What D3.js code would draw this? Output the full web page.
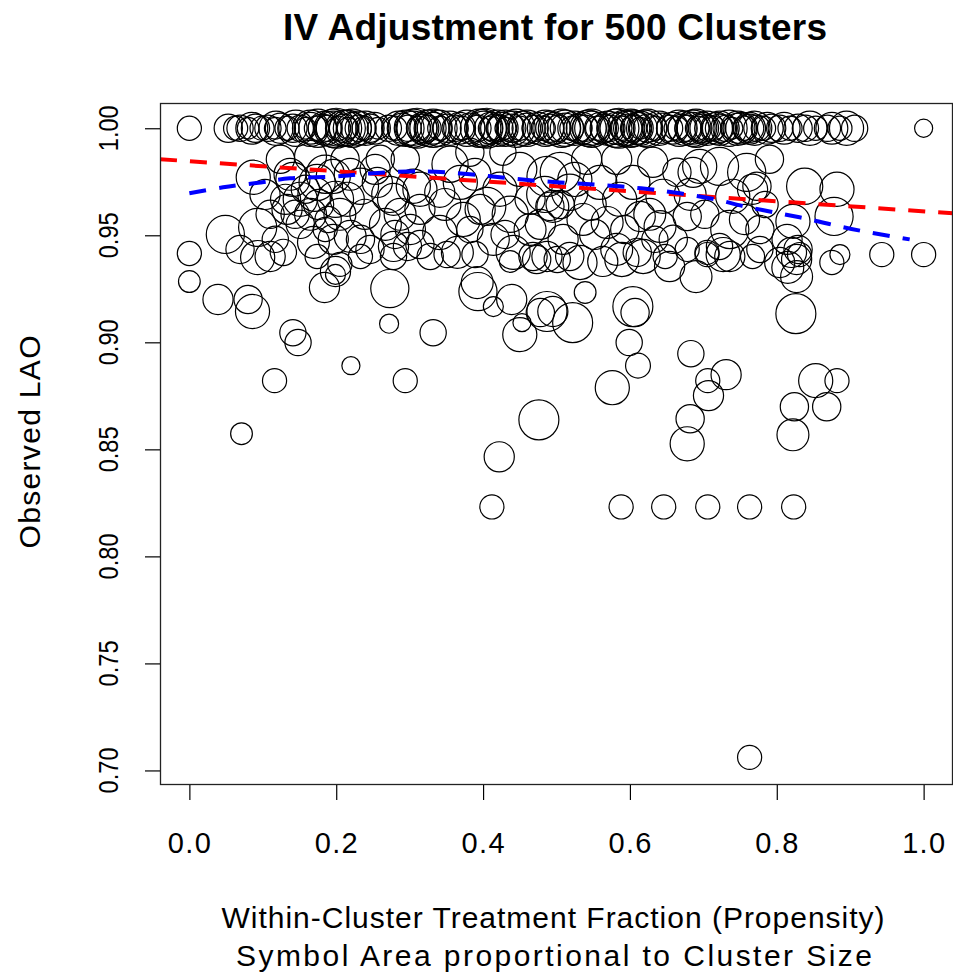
<!DOCTYPE html>
<html><head><meta charset="utf-8">
<script src="https://cdn.jsdelivr.net/npm/d3@7"></script>
<style>body{margin:0;background:#fff} text{font-family:"Liberation Sans",Arial,sans-serif;fill:#000}</style>
</head><body><svg id="c" width="953" height="974"></svg>
<script>
// clusters with observed LAO = 1.00 (top row)
const topRowX = [0.000,0.053,0.063,0.069,0.080,0.090,0.099,0.107,0.117,0.124,0.133,0.141,0.151,0.158,0.165,0.173,0.181,0.189,0.196,0.203,0.210,0.216,0.222,0.230,0.238,0.246,0.257,0.271,0.280,0.290,0.298,0.305,0.312,0.318,0.325,0.332,0.341,0.351,0.362,0.371,0.382,0.393,0.401,0.410,0.416,0.423,0.431,0.439,0.450,0.460,0.471,0.482,0.491,0.502,0.512,0.521,0.529,0.539,0.548,0.556,0.565,0.573,0.581,0.589,0.597,0.605,0.614,0.624,0.634,0.644,0.654,0.663,0.671,0.679,0.686,0.692,0.699,0.706,0.714,0.722,0.731,0.739,0.747,0.756,0.763,0.773,0.782,0.793,0.804,0.818,0.829,0.839,0.853,0.869,0.886,0.906,1.000,
0.196,0.210,0.305,0.318,0.401,0.410,0.431,0.581,0.597,0.605,0.686,0.699,0.722,0.165,0.222,0.230,0.325,0.332,0.441,0.460,0.491,0.512,0.548,0.614,0.624,0.747,0.763,
0.085,0.118,0.145,0.175,0.185,0.200,0.215,0.240,0.252,0.285,0.295,0.310,0.340,0.355,0.368,0.378,0.395,0.405,0.420,0.426,0.445,0.455,0.475,0.485,0.497,0.507,0.525,0.535,0.543,0.560,0.570,0.585,0.593,0.601,0.610,0.620,0.640,0.658,0.667,0.675,0.690,0.705,0.718,0.735,0.752,0.770,0.787,0.810,0.845,0.875,0.895];
const topRowSize = [16,22,16,19,13,22,16,19,13,25,16,22,19,13,28,16,22,19,32,16,22,13,28,19,16,22,13,19,16,25,19,32,16,22,19,28,16,22,19,16,25,19,32,16,22,19,13,22,16,25,19,16,22,19,25,16,22,19,32,16,22,19,28,16,22,19,13,22,16,25,19,16,22,19,28,16,22,19,16,22,19,13,25,16,22,19,16,22,19,16,22,19,16,19,16,19,9,
40,36,40,28,40,28,36,40,32,36,36,28,32,36,40,32,36,40,32,36,32,36,40,32,40,32,28,
28,32,36,40,32,44,36,32,28,32,36,44,36,32,28,36,40,44,36,28,40,32,28,36,28,40,32,28,36,28,32,44,36,40,28,36,32,28,36,32,40,32,28,36,28,32,28,28,32,28,32];

// all other clusters
const propensity = [0.000,0.000,0.039,0.080,0.086,0.141,0.148,0.220,0.116,0.071,0.272,0.273,0.332,0.294,0.184,0.199,0.199,0.093,0.476,0.422,
0.412,0.392,0.393,0.414,0.439,0.450,0.453,0.478,0.487,0.437,0.539,0.522,0.495,0.604,0.607,0.599,0.611,0.576,0.690,0.683,
0.731,0.706,0.707,0.682,0.678,0.826,0.827,0.815,0.875,0.943,1.000,0.853,0.882,0.824,0.868,0.822,0.588,0.646,0.706,0.763,
0.823,0.763,0.087,0.049,0.093,0.117,0.110,0.128,0.137,0.131,0.144,0.124,0.165,0.141,0.174,0.151,0.133,0.196,0.215,0.233,
0.256,0.278,0.305,0.314,0.169,0.196,0.233,0.278,0.297,0.185,0.199,0.165,0.212,0.253,0.273,0.294,0.267,0.219,0.301,0.246,
0.205,0.314,0.174,0.233,0.278,0.351,0.389,0.468,0.487,0.501,0.532,0.563,0.589,0.618,0.648,0.654,0.705,0.727,0.767,0.804,
0.827,0.831,0.886,0.736,0.314,0.341,0.369,0.373,0.405,0.414,0.341,0.328,0.365,0.450,0.464,0.464,0.473,0.441,0.487,0.495,
0.382,0.427,0.505,0.518,0.536,0.559,0.569,0.582,0.604,0.614,0.645,0.641,0.659,0.518,0.610,0.541,0.582,0.631,0.664,0.491,
0.509,0.695,0.722,0.759,0.740,0.773,0.678,0.736,0.814,0.820,0.829,0.777,0.722,0.705,0.678,0.777,0.838,0.882,0.878,0.822,
0.767,0.686,
0.158,0.176,0.189,0.151,0.205,0.185,0.171,0.355,0.389,0.423,0.396,0.437,0.382,0.348,0.430,0.484,0.505,0.525,0.546,0.552,
0.586,0.593,0.627,0.634,0.478,0.239,0.287,0.260,0.280,0.219,0.702,0.784,0.756,0.682,0.790,0.103,0.069,0.110];
const lao = [0.9284,0.9415,0.9200,0.9200,0.9144,0.9045,0.8999,0.8891,0.8821,0.8573,0.9087,0.9251,0.9045,0.8821,0.9256,0.9331,0.9317,0.9396,0.8638,0.8465,
0.8231,0.9279,0.9237,0.9167,0.9200,0.9036,0.9092,0.9139,0.9144,0.9378,0.9233,0.9092,0.9144,0.9167,0.9139,0.8999,0.8891,0.8788,0.9307,0.8947,
0.8849,0.8821,0.8751,0.8643,0.8526,0.9134,0.9307,0.9350,0.9373,0.9410,0.9410,0.8821,0.8821,0.8699,0.8699,0.8568,0.8231,0.8231,0.8231,0.8231,
0.8231,0.7061,0.9771,0.9504,0.9537,0.9481,0.9401,0.9420,0.9785,0.9668,0.9598,0.9855,0.9869,0.9761,0.9747,0.9668,0.9621,0.9775,0.9668,0.9729,
0.9747,0.9668,0.9729,0.9621,0.9467,0.9481,0.9481,0.9448,0.9448,0.9785,0.9668,0.9598,0.9855,0.9808,0.9691,0.9855,0.9551,0.9495,0.9527,0.9434,
0.9364,0.9457,0.9401,0.9401,0.9401,0.9410,0.9410,0.9401,0.9401,0.9387,0.9373,0.9378,0.9387,0.9401,0.9401,0.9354,0.9410,0.9410,0.9401,0.9373,
0.9387,0.9410,0.9410,0.9401,0.9715,0.9701,0.9747,0.9574,0.9635,0.9481,0.9513,0.9401,0.9420,0.9808,0.9668,0.9527,0.9387,0.9420,0.9775,0.9635,
0.9888,0.9888,0.9794,0.9701,0.9574,0.9747,0.9560,0.9434,0.9747,0.9588,0.9682,0.9541,0.9481,0.9401,0.9420,0.9855,0.9855,0.9841,0.9794,0.9635,
0.9481,0.9822,0.9822,0.9794,0.9682,0.9729,0.9588,0.9527,0.9481,0.9420,0.9434,0.9434,0.9448,0.9420,0.9434,0.9527,0.9729,0.9715,0.9588,0.9565,
0.9715,0.9794,
0.9715,0.9644,0.9574,0.9551,0.9598,0.9527,0.9691,0.9832,0.9785,0.9715,0.9621,0.9598,0.9527,0.9644,0.9504,0.9691,0.9644,0.9761,0.9644,0.9504,
0.9668,0.9527,0.9598,0.9481,0.9551,0.9598,0.9598,0.9855,0.9504,0.9785,0.9598,0.9644,0.9574,0.9691,0.9855,0.9691,0.9434,0.9598];
const clusterSize = [13,16,25,22,32,19,19,9,16,13,10,40,19,16,25,25,11,32,44,25,
16,28,40,11,25,32,9,22,44,13,13,44,25,44,22,19,17,32,28,19,
25,16,25,22,32,44,28,28,16,16,16,32,16,22,22,28,16,16,16,16,
16,16,32,40,40,19,25,19,28,25,22,22,28,32,36,32,25,32,32,36,
25,28,32,25,28,25,22,25,22,40,36,28,22,25,36,22,28,28,25,22,
16,22,16,16,19,19,19,22,25,19,32,25,32,32,16,25,16,32,16,25,
25,16,11,25,32,25,32,32,40,28,32,19,28,32,25,28,22,32,44,28,
22,19,44,36,28,32,28,28,32,25,32,28,22,22,22,25,25,25,22,22,
25,32,40,40,32,22,22,40,25,25,22,19,19,16,16,22,36,32,40,32,
25,25,
22,25,19,22,28,16,32,36,28,32,25,36,19,28,22,36,22,32,28,25,
32,22,28,19,25,25,28,22,22,28,22,19,25,28,22,25,22,22];

// fitted lines
const linearFit = {intercept: 0.9846, slope: -0.0234};   // red dashed
const smoothX = [0.000,0.046,0.097,0.137,0.199,0.246,0.314,0.382,0.423,0.464,0.505,0.546,0.586,0.627,0.668,0.716,0.756,0.804,0.845,0.886,0.927,0.981];
const smoothY = [0.9696,0.9724,0.9747,0.9766,0.9775,0.9789,0.9799,0.9785,0.9771,0.9757,0.9747,0.9738,0.9729,0.9715,0.9696,0.9668,0.9635,0.9602,0.9574,0.9541,0.9513,0.9481];

const xTicks = [0.0,0.2,0.4,0.6,0.8,1.0];
const yTicks = [0.70,0.75,0.80,0.85,0.90,0.95,1.00];

const L = 160, R = 953, T = 103, B = 785;
const svg = d3.select("#c");
const x = d3.scaleLinear().domain([-0.04, 1.04]).range([L, R]);
const y = d3.scaleLinear().domain([0.6932, 1.0118]).range([B, T]);
const rScale = d3.scaleSqrt().domain([0, 44]).range([0, 20]);

svg.append("clipPath").attr("id","clip").append("rect")
  .attr("x", L).attr("y", T).attr("width", R - L).attr("height", B - T);

const g = svg.append("g").attr("clip-path","url(#clip)");

const pts = topRowX.map((v,i)=>({px:v, py:1.0, s:topRowSize[i]}))
  .concat(propensity.map((v,i)=>({px:v, py:lao[i], s:clusterSize[i]})));

g.selectAll("circle.pt").data(pts).join("circle").attr("class","pt")
  .attr("cx", d=>x(d.px)).attr("cy", d=>y(d.py)).attr("r", d=>rScale(d.s))
  .attr("fill","none").attr("stroke","#000").attr("stroke-width",1.2);

// red linear fit across plot
const xd = x.domain();
g.append("line")
  .attr("x1", x(xd[0])).attr("y1", y(linearFit.intercept + linearFit.slope*xd[0]))
  .attr("x2", x(xd[1])).attr("y2", y(linearFit.intercept + linearFit.slope*xd[1]))
  .attr("stroke","#ff0000").attr("stroke-width",4).attr("stroke-dasharray","17,13");

// blue smooth
const line = d3.line().x(d=>x(d[0])).y(d=>y(d[1])).curve(d3.curveCatmullRom);
g.append("path").datum(smoothX.map((v,i)=>[v, smoothY[i]]))
  .attr("d", line).attr("fill","none").attr("stroke","#0000ff").attr("stroke-width",4).attr("stroke-dasharray","17,13");

// box
svg.append("rect").attr("x", L+0.5).attr("y", T+0.5).attr("width", R-L-1).attr("height", B-T-1)
  .attr("fill","none").attr("stroke","#222").attr("stroke-width",1.3);

// x axis
const xAxis = svg.append("g").attr("transform",`translate(0,${B})`)
  .call(d3.axisBottom(x).tickValues(xTicks).tickSize(15).tickFormat(""));
xAxis.select(".domain").remove();
xAxis.selectAll("line").attr("stroke","#000").attr("stroke-width",1.2);
svg.selectAll("text.xt").data(xTicks).join("text").attr("class","xt")
  .attr("x", d=>x(d)).attr("y", 853).attr("text-anchor","middle")
  .style("font-size","29px").attr("textLength",43).attr("lengthAdjust","spacing")
  .text(d=>d3.format(".1f")(d));

// y axis
const yAxis = svg.append("g").attr("transform",`translate(${L},0)`)
  .call(d3.axisLeft(y).tickValues(yTicks).tickSize(15).tickFormat(""));
yAxis.select(".domain").remove();
yAxis.selectAll("line").attr("stroke","#000").attr("stroke-width",1.2);
svg.selectAll("text.yt").data(yTicks).join("text").attr("class","yt")
  .attr("transform", d=>`translate(118,${y(d)}) rotate(-90)`).attr("text-anchor","middle")
  .style("font-size","28px").attr("textLength",46).attr("lengthAdjust","spacingAndGlyphs")
  .text(d=>d3.format(".2f")(d));

// titles
svg.append("text").attr("x", 555).attr("y", 40).attr("text-anchor","middle")
  .style("font-size","37px").style("font-weight","bold")
  .attr("textLength",544).attr("lengthAdjust","spacing")
  .text("IV Adjustment for 500 Clusters");
svg.append("text").attr("x", 553).attr("y", 928).attr("text-anchor","middle")
  .style("font-size","30px").attr("textLength",663).attr("lengthAdjust","spacing")
  .text("Within-Cluster Treatment Fraction (Propensity)");
svg.append("text").attr("x", 554).attr("y", 966).attr("text-anchor","middle")
  .style("font-size","30px").attr("textLength",636).attr("lengthAdjust","spacing")
  .text("Symbol Area proportional to Cluster Size");
svg.append("text").attr("transform",`translate(40,442) rotate(-90)`).attr("text-anchor","middle")
  .style("font-size","30px").attr("textLength",213).attr("lengthAdjust","spacing")
  .text("Observed LAO");
</script></body></html>
